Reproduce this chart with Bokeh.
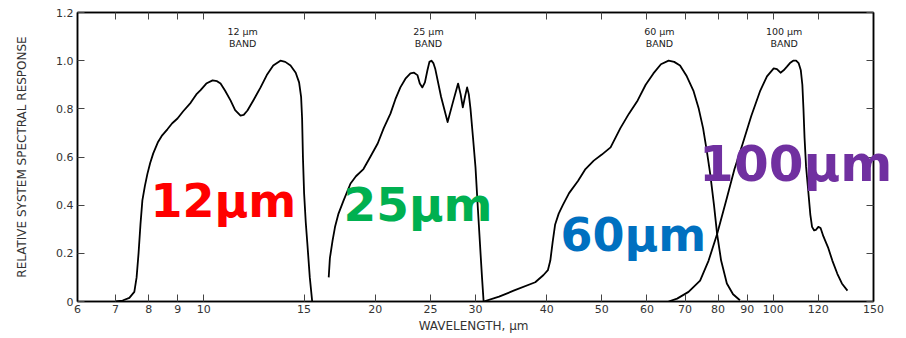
from bokeh.plotting import figure
from bokeh.embed import file_html
from bokeh.resources import INLINE
from bokeh.models import (FixedTicker, CustomJSTickFormatter, LogAxis, LinearAxis,
                          PrintfTickFormatter, Range1d)
from bokeh.core.properties import value

# ---- data ----
band12_x = [7.0, 7.2, 7.4, 7.55, 7.62, 7.68, 7.74, 7.8, 7.88, 7.96, 8.05, 8.15, 8.3, 8.45,
            8.63, 8.8, 8.99, 9.2, 9.48, 9.7, 9.87, 10.1, 10.36, 10.55, 10.7, 10.9, 11.14,
            11.35, 11.6, 11.75, 11.93, 12.25, 12.58, 12.9, 13.24, 13.63, 13.9, 14.2, 14.5,
            14.7, 14.82, 14.88, 14.93, 15.0, 15.1, 15.2, 15.35, 15.5]
band12_y = [0.0, 0.004, 0.015, 0.04, 0.1, 0.2, 0.32, 0.42, 0.48, 0.53, 0.575, 0.615, 0.66,
            0.69, 0.715, 0.74, 0.76, 0.79, 0.825, 0.86, 0.878, 0.905, 0.918, 0.915, 0.905,
            0.875, 0.835, 0.795, 0.772, 0.775, 0.793, 0.84, 0.889, 0.94, 0.98, 1.0, 0.995,
            0.98, 0.95, 0.91, 0.85, 0.76, 0.6, 0.45, 0.33, 0.24, 0.1, 0.0]

band25_x = [16.57, 16.65, 16.83, 17.0, 17.24, 17.6, 18.1, 18.5, 19.07, 19.6, 20.2, 20.7,
            21.27, 21.7, 22.14, 22.6, 23.06, 23.4, 23.72, 23.95, 24.2, 24.45, 24.7, 24.9,
            25.1, 25.3, 25.5, 26.1, 26.8, 27.4, 27.96, 28.25, 28.5, 28.75, 29.0, 29.2, 29.4,
            29.7, 30.0, 30.3, 30.6, 30.8, 31.0]
band25_y = [0.1, 0.18, 0.253, 0.31, 0.365, 0.42, 0.49, 0.52, 0.55, 0.6, 0.656, 0.72, 0.78,
            0.84, 0.889, 0.925, 0.947, 0.95, 0.94, 0.905, 0.889, 0.91, 0.96, 0.995, 1.0,
            0.99, 0.965, 0.85, 0.745, 0.83, 0.905, 0.86, 0.806, 0.85, 0.889, 0.86, 0.8,
            0.68, 0.557, 0.38, 0.21, 0.1, 0.0]

band60_x = [31.0, 33.0, 35.0, 38.2, 39.5, 40.2, 40.6, 41.0, 41.4, 42.0, 42.7, 43.8, 45.4,
            46.8, 48.4, 50.0, 51.8, 53.9, 55.8, 57.8, 59.7, 61.6, 63.5, 65.5, 67.0, 68.6,
            70.5, 72.4, 74.0, 75.3, 76.5, 77.5, 78.7, 79.7, 81.0, 82.9, 85.0, 87.4]
band60_y = [0.0, 0.02, 0.045, 0.08, 0.11, 0.13, 0.17, 0.25, 0.32, 0.365, 0.4, 0.45, 0.5,
            0.55, 0.585, 0.61, 0.64, 0.72, 0.78, 0.835, 0.9, 0.947, 0.985, 1.0, 0.995, 0.98,
            0.935, 0.876, 0.8, 0.72, 0.62, 0.53, 0.4, 0.28, 0.17, 0.075, 0.03, 0.005]

band100_x = [65.5, 67.8, 71.0, 74.4, 77.0, 79.7, 82.9, 85.5, 88.4, 91.5, 94.9, 97.5, 100.2,
             101.5, 103.0, 104.3, 105.7, 107.0, 108.4, 109.7, 110.8, 111.8, 112.5, 113.0,
             113.5, 114.2, 115.2, 116.2, 117.0, 118.0, 118.8, 120.0, 121.1, 122.5, 124.8,
             127.0, 129.6, 132.0, 135.0]
band100_y = [0.0, 0.012, 0.04, 0.087, 0.17, 0.28, 0.43, 0.55, 0.656, 0.77, 0.876, 0.935,
             0.968, 0.965, 0.95, 0.96, 0.975, 0.99, 1.0, 1.0, 0.99, 0.96, 0.9, 0.8, 0.68,
             0.56, 0.46, 0.36, 0.31, 0.295, 0.297, 0.31, 0.305, 0.27, 0.225, 0.17, 0.115,
             0.075, 0.045]

x_ticks = [6, 7, 8, 9, 10, 15, 20, 25, 30, 40, 50, 60, 70, 80, 90, 100, 120, 150]
y_ticks = [0, 0.2, 0.4, 0.6, 0.8, 1.0, 1.2]

band_names = ["12 μm\nBAND", "25 μm\nBAND", "60 μm\nBAND", "100 μm\nBAND"]
band_label_x = [11.7, 24.8, 63.1, 104.5]
band_label_y = [1.096, 1.096, 1.096, 1.096]

big_labels = ["12μm", "25μm", "60μm", "100μm"]
big_x = [8.06, 17.6, 42.3, 74.1]
big_y = [0.419, 0.402, 0.278, 0.57]
big_colors = ["#FF0000", "#00B050", "#0070C0", "#7030A0"]
big_sizes = ["46px", "47px", "46px", "50px"]

# ---- figure ----
p = figure(width=906, height=338, x_axis_type="log",
           x_range=Range1d(6, 150), y_range=Range1d(0, 1.2),
           output_backend="svg", toolbar_location=None,
           min_border_left=77, min_border_right=33, min_border_top=12, min_border_bottom=37)
p.grid.visible = False
p.outline_line_color = "black"
p.outline_line_width = 1.5
p.background_fill_color = "white"
p.border_fill_color = "white"

tick_font = "DejaVu Sans"

xa = p.xaxis[0]
xa.ticker = FixedTicker(ticks=x_ticks)
xa.formatter = PrintfTickFormatter(format="%d")
xa.major_tick_in = 7
xa.major_tick_out = 0
xa.minor_tick_line_color = None
xa.axis_line_color = "black"
xa.axis_line_width = 1.5
xa.major_tick_line_color = "#444444"
xa.major_label_text_font = tick_font
xa.major_label_text_font_size = "11px"
xa.major_label_text_color = "#333333"
xa.major_label_standoff = 3
xa.axis_label = "WAVELENGTH,  μm"
xa.axis_label_text_font = tick_font
xa.axis_label_text_font_style = "normal"
xa.axis_label_text_font_size = "12px"
xa.axis_label_text_color = "#333333"
xa.axis_label_standoff = 3

ya = p.yaxis[0]
ya.ticker = FixedTicker(ticks=y_ticks)
ya.formatter = CustomJSTickFormatter(code="return tick == 0 ? '0' : tick.toFixed(1);")
ya.major_tick_in = 7
ya.major_tick_out = 0
ya.minor_tick_line_color = None
ya.axis_line_color = "black"
ya.axis_line_width = 1.5
ya.major_tick_line_color = "#444444"
ya.major_label_text_font = tick_font
ya.major_label_text_font_size = "11px"
ya.major_label_text_color = "#333333"
ya.major_label_standoff = 4
ya.axis_label = "RELATIVE SYSTEM SPECTRAL RESPONSE"
ya.axis_label_text_font = tick_font
ya.axis_label_text_font_style = "normal"
ya.axis_label_text_font_size = "12px"
ya.axis_label_text_color = "#333333"
ya.axis_label_standoff = 24

blank = CustomJSTickFormatter(code="return '';")
top = LogAxis(ticker=FixedTicker(ticks=x_ticks), formatter=blank, major_tick_in=7,
              major_tick_out=0, minor_tick_line_color=None,
              major_tick_line_color="#444444", axis_line_color="black", axis_line_width=1.5,
              major_label_standoff=0)
p.add_layout(top, "above")
right = LinearAxis(ticker=FixedTicker(ticks=y_ticks), formatter=blank, major_tick_in=7,
                   major_tick_out=0, minor_tick_line_color=None,
                   major_tick_line_color="#444444", axis_line_color="black",
                   axis_line_width=1.5, major_label_standoff=0)
p.add_layout(right, "right")

for xs, ys in [(band12_x, band12_y), (band25_x, band25_y),
               (band60_x, band60_y), (band100_x, band100_y)]:
    p.line(xs, ys, line_color="black", line_width=1.8, line_join="round")

p.text(x=band_label_x, y=band_label_y, text=band_names, text_align="center",
       text_baseline="middle", text_font=value("DejaVu Sans"), text_font_size="9.5px",
       text_color="#222222", text_line_height=1.1)

# big coloured labels drawn at the overlay level so the last one may overhang the frame
for t, x, y, c, s in zip(big_labels, big_x, big_y, big_colors, big_sizes):
    p.text(x=[x], y=[y], text=[t], text_color=c, text_font=value("DejaVu Sans"),
           text_font_style="bold", text_font_size=s, text_baseline="alphabetic",
           text_align="left", level="overlay")

open("out.html", "w").write(file_html(p, INLINE))
